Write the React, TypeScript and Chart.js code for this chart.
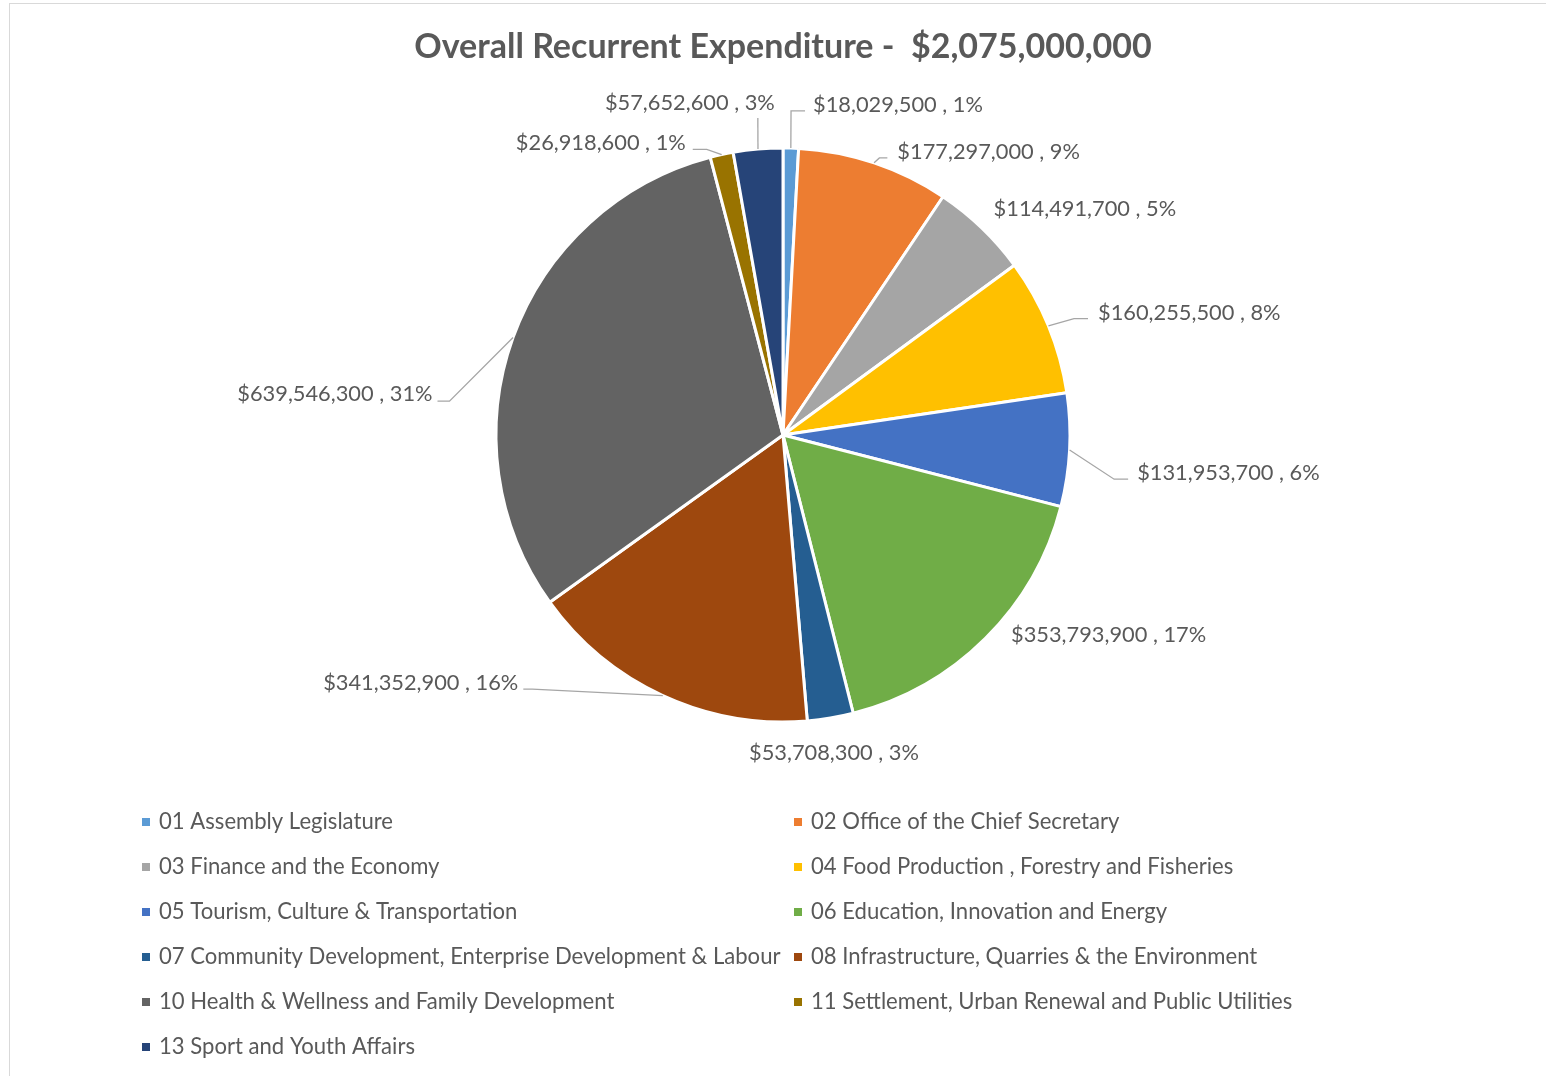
import React, { useEffect, useRef } from "react";
import { Chart, registerables } from "chart.js";

Chart.register(...registerables);

const TITLE = "Overall Recurrent Expenditure -  $2,075,000,000";

const categories = [
  "01 Assembly Legislature",
  "02 Office of the Chief Secretary",
  "03 Finance and the Economy",
  "04 Food Production , Forestry and Fisheries",
  "05 Tourism, Culture & Transportation",
  "06 Education, Innovation and Energy",
  "07 Community Development, Enterprise Development & Labour",
  "08 Infrastructure, Quarries & the Environment",
  "10 Health & Wellness and Family Development",
  "11 Settlement, Urban Renewal and Public Utilities",
  "13 Sport and Youth Affairs",
];

const values = [
  18029500, 177297000, 114491700, 160255500, 131953700, 353793900, 53708300,
  341352900, 639546300, 26918600, 57652600,
];

const percentLabels = ["1%", "9%", "5%", "8%", "6%", "17%", "3%", "16%", "31%", "1%", "3%"];

const colors = [
  "#5B9BD5", "#ED7D31", "#A5A5A5", "#FFC000", "#4472C4", "#70AD47",
  "#255E91", "#9E480E", "#636363", "#997300", "#264478",
];

// label placement: angle (deg, clockwise from top), radius factor, horizontal leader, text dx, text dy, align, leader
type LL = [number, number, number, number, number, CanvasTextAlign, boolean];
const labelLayout: LL[] = [
  [1.42, 1.13, 14, 8, -6, "left", true],
  [19.18, 1.022, 8, 10, -6, "left", true],
  [43.0, 1.076, 0, 0, 0, "left", false],
  [68.2, 1.092, 14, 10, -6, "left", true],
  [97.6, 1.164, 14, 9, -6, "left", true],
  [131.2, 1.056, 0, 0, 0, "left", false],
  [170.9, 1.1225, 0, 0, 0, "center", false],
  [224.6, 1.244, -9, -5, -6, "right", true],
  [275.8, 1.168, -12, -5, -7, "right", true],
  [345.05, 1.03, -14, -7, -6, "right", true],
  [355.46, 1.108, 0, 17, -15, "right", true],
];

const FONT = "Lato, 'Open Sans', sans-serif";
const TEXT_COLOR = "#595959";

const overlayPlugin = {
  id: "overlay",
  afterDraw(chart: any) {
    const ctx: CanvasRenderingContext2D = chart.ctx;
    ctx.save();
    // frame
    ctx.strokeStyle = "#D9D9D9";
    ctx.lineWidth = 1;
    ctx.strokeRect(9.5, 3.5, 1700, 1200);

    // title
    ctx.fillStyle = TEXT_COLOR;
    ctx.font = `bold 34px ${FONT}`;
    ctx.textAlign = "center";
    ctx.textBaseline = "middle";
    ctx.fillText(TITLE, 783, 47);

    // data labels
    const meta = chart.getDatasetMeta(0);
    ctx.font = `21.8px ${FONT}`;
    meta.data.forEach((arc: any, i: number) => {
      const p = arc.getProps(["x", "y", "outerRadius", "startAngle", "endAngle"], true);
      const mid = (p.startAngle + p.endAngle) / 2;
      const ex = p.x + Math.cos(mid) * p.outerRadius;
      const ey = p.y + Math.sin(mid) * p.outerRadius;
      const [ang, f, h, dx, dy, align, leader] = labelLayout[i];
      const th = ((ang - 90) * Math.PI) / 180;
      const px = p.x + Math.cos(th) * p.outerRadius * f;
      const py = p.y + Math.sin(th) * p.outerRadius * f;
      if (leader) {
        ctx.strokeStyle = "#A6A6A6";
        ctx.lineWidth = 1.3;
        ctx.beginPath();
        ctx.moveTo(ex, ey);
        ctx.lineTo(px, py);
        ctx.lineTo(px + h, py);
        ctx.stroke();
      }
      const txt = `$${values[i].toLocaleString("en-US")} , ${percentLabels[i]}`;
      ctx.fillStyle = TEXT_COLOR;
      ctx.textAlign = align;
      ctx.textBaseline = "middle";
      ctx.fillText(txt, px + h + dx, py + dy);
    });

    // legend
    ctx.font = `22.1px ${FONT}`;
    ctx.textAlign = "left";
    ctx.textBaseline = "middle";
    categories.forEach((c, i) => {
      const col = i % 2;
      const row = Math.floor(i / 2);
      const x = col === 0 ? 142 : 794;
      const y = 822 + 45 * row;
      ctx.fillStyle = colors[i];
      ctx.fillRect(x, y - 4, 8, 8);
      ctx.fillStyle = TEXT_COLOR;
      ctx.fillText(c, x + 17, y);
    });
    ctx.restore();
  },
};

export default function App() {
  const ref = useRef<HTMLCanvasElement | null>(null);
  useEffect(() => {
    document.body.style.margin = "0";
    const canvas = ref.current!;
    const chart = new Chart(canvas, {
      type: "pie",
      data: {
        labels: categories,
        datasets: [
          {
            data: values,
            backgroundColor: colors,
            borderColor: "#FFFFFF",
            borderWidth: 3,
            radius: 287,
          } as any,
        ],
      },
      options: {
        responsive: false,
        animation: false,
        devicePixelRatio: 1,
        layout: { padding: { left: 200, right: 180, top: 80, bottom: 286 } },
        plugins: {
          legend: { display: false },
          title: { display: false },
          tooltip: { enabled: false },
        },
      },
      plugins: [overlayPlugin],
    });
    return () => chart.destroy();
  }, []);
  return (
    <div style={{ width: 1546, height: 1076, background: "#fff" }}>
      <canvas ref={ref} width={1546} height={1076} style={{ display: "block" }} />
    </div>
  );
}
